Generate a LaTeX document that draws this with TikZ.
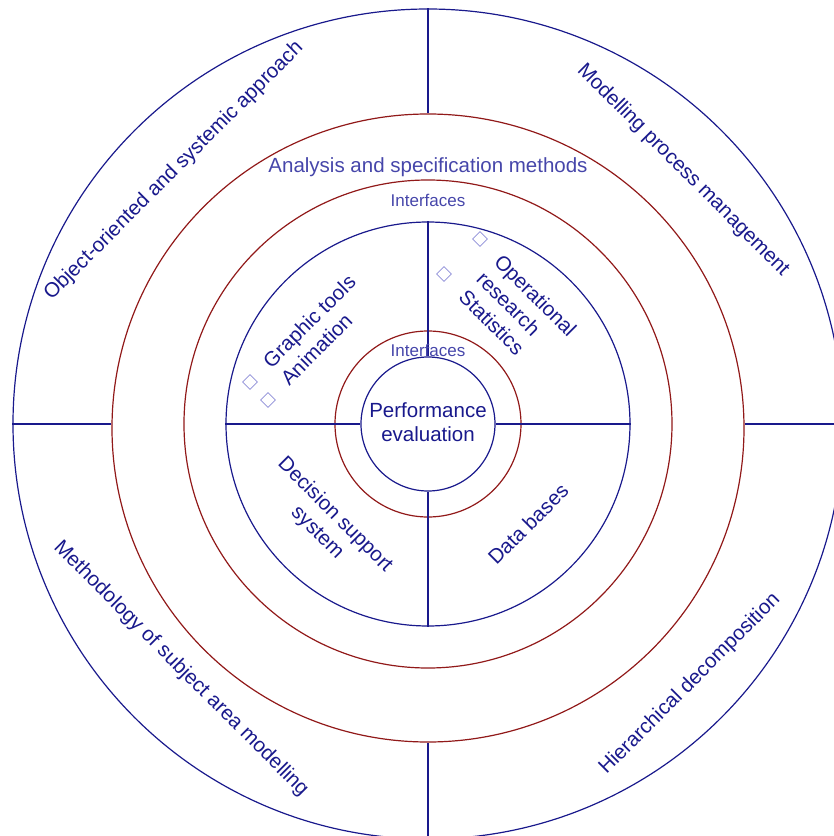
\documentclass[tikz,border=0pt]{standalone}
\usepackage{fontspec}
\setmainfont{Liberation Sans}
\usetikzlibrary{shapes.geometric}
\definecolor{ringblue}{RGB}{25,25,140}
\definecolor{ringred}{RGB}{145,25,25}
\definecolor{labelblue}{RGB}{25,25,140}
\definecolor{softblue}{RGB}{70,70,170}
\definecolor{markblue}{RGB}{140,140,215}

\begin{document}
\begin{tikzpicture}[x=1pt,y=1pt,
  ringb/.style={circle,draw=ringblue,line width=1.2pt,inner sep=0pt,minimum size=#1},
  ringr/.style={circle,draw=ringred,line width=1.2pt,inner sep=0pt,minimum size=#1},
  spoke/.style={draw=ringblue,line width=1.5pt},
  lbl/.style={text=labelblue,font=\fontsize{20.5}{25}\selectfont,inner sep=0pt},
  soft/.style={text=softblue,inner sep=0pt},
  bullet/.style={diamond,draw=markblue,line width=0.8pt,inner sep=0pt,minimum size=15pt}]
\useasboundingbox (-428,-412) rectangle (406,424);
\clip (-428,-412) rectangle (406,424);
\node[ringb=830] (outer) at (0,0) {};
\node[ellipse,draw=ringred,line width=1.2pt,inner sep=0pt,minimum width=632,minimum height=628] (bigred) at (0,-4) {};
\node[ringr=488] (midred) at (0,0) {};
\node[ringb=404] (quad) at (0,0) {};
\node[ringr=186] (smallred) at (0,0) {};
\node[ringb=134] (core) at (0,0) {};
\draw[spoke] (outer.north) -- (bigred.north);
\draw[spoke] (outer.south) -- (bigred.south);
\draw[spoke] (outer.west) -- (bigred.west |- outer.west);
\draw[spoke] (outer.east) -- (bigred.east |- outer.east);
\draw[spoke] (quad.north) -- (core.north);
\draw[spoke] (quad.south) -- (core.south);
\draw[spoke] (quad.west) -- (core.west);
\draw[spoke] (quad.east) -- (core.east);
\node[soft,font=\fontsize{20.5}{25}\selectfont,anchor=base] (methods) at (0,251) {Analysis and specification methods};
\node[soft,font=\fontsize{17}{20}\selectfont,anchor=base] (ifout) at (0,217) {Interfaces};
\node[soft,font=\fontsize{17}{20}\selectfont,anchor=base] (ifin) at (0,68) {Interfaces};
\node[lbl,align=center,font=\fontsize{20.5}{23.5}\selectfont] (perf) at (0,2) {Performance\\evaluation};
\node[lbl,rotate=45,align=left] (graphic) at (-110,94) {Graphic tools\\Animation};
\node[lbl,rotate=-45,align=left] (opres) at (90,111) {Operational\\research\\Statistics};
\node[lbl,rotate=-45,align=center] (dss) at (-102,-100) {Decision support\\system};
\node[lbl,rotate=45] (db) at (100,-100) {Data bases};
\node[lbl,rotate=45] (oosa) at (-254,253) {Object-oriented and systemic approach};
\node[lbl,rotate=-45] (mpm) at (255,254) {Modelling process management};
\node[lbl,rotate=-45] (msam) at (-247,-245) {Methodology of subject area modelling};
\node[lbl,rotate=45] (hd) at (262,-260) {Hierarchical decomposition};
\node[bullet] (b1) at (-178,42) {};
\node[bullet] (b2) at (-160,24) {};
\node[bullet] (b3) at (52,185) {};
\node[bullet] (b4) at (16,150) {};
\end{tikzpicture}
\end{document}
